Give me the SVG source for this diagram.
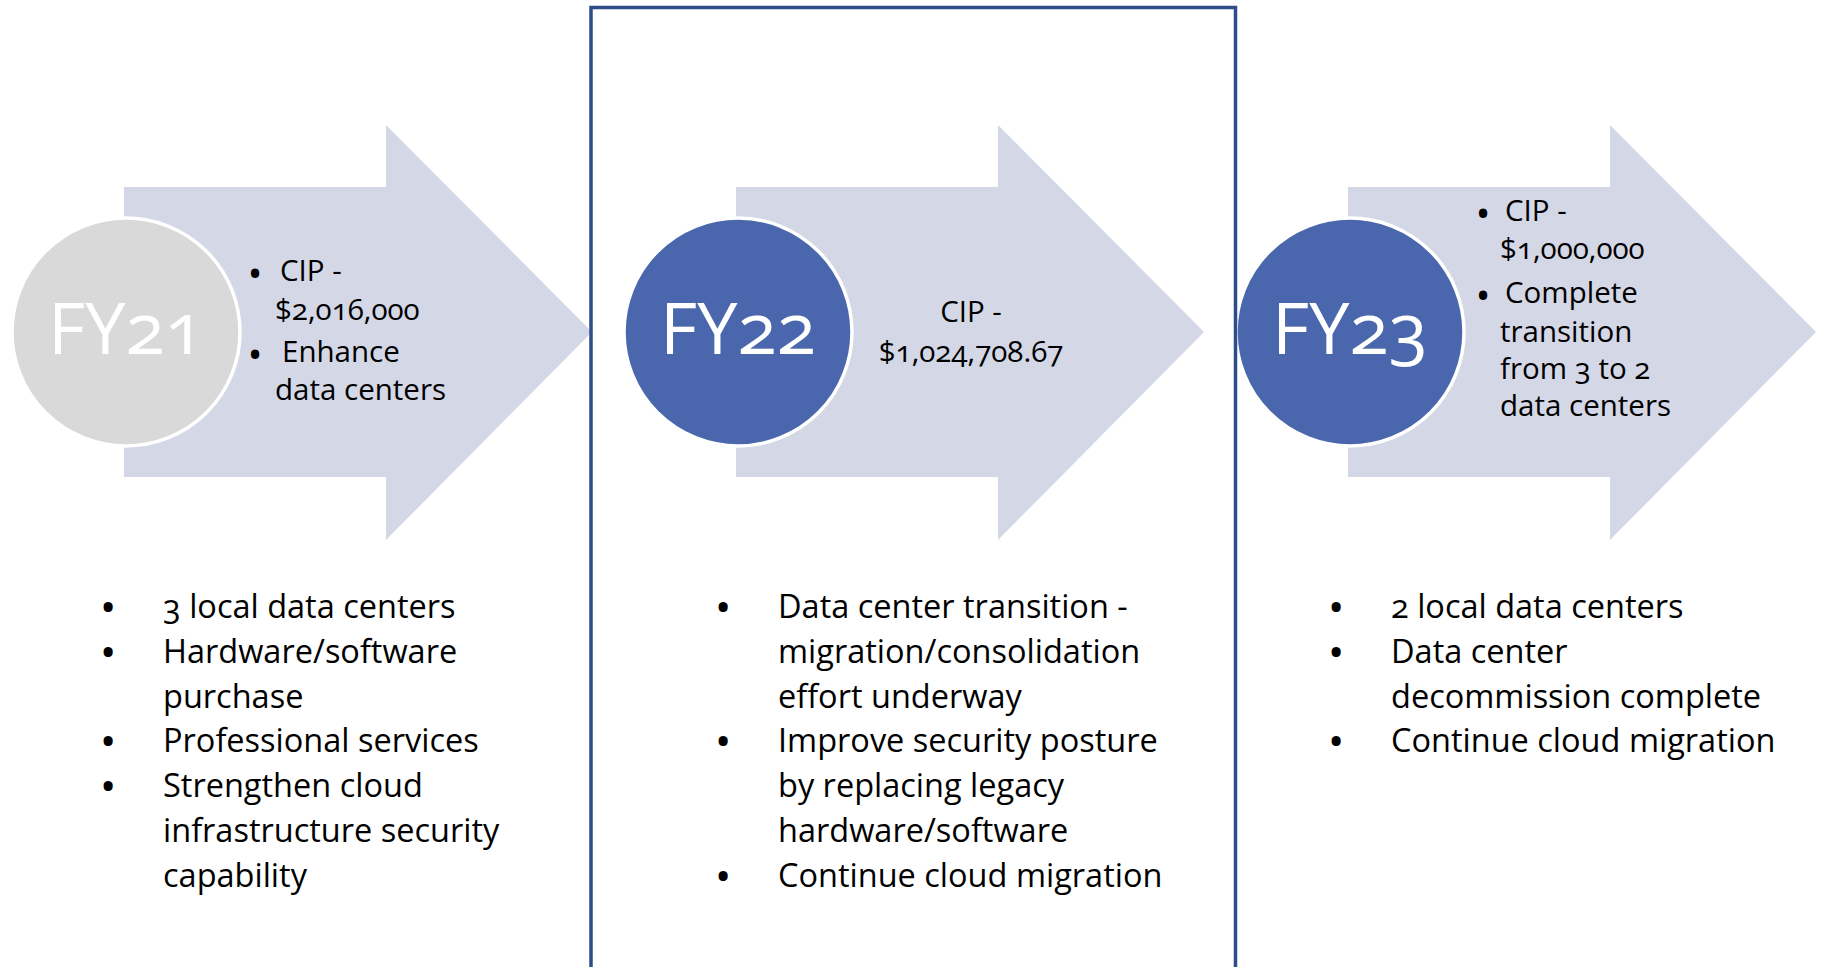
<svg xmlns="http://www.w3.org/2000/svg" width="1825" height="967" viewBox="0 0 1825 967">
<style>
.arrow{fill:#D3D7E6;}
.circ{stroke:#FFFFFF;stroke-width:3.5;}
.grey{fill:#D9D9D9;}
.blue{fill:#4A67AD;}
.fy{font-family:"Open Sans","Liberation Sans",sans-serif;font-size:72px;fill:#FFFFFF;text-anchor:middle;font-variant-numeric:oldstyle-nums;}
.at{font-family:"Open Sans","Liberation Sans",sans-serif;font-size:29.5px;fill:#000000;font-variant-numeric:oldstyle-nums;}
.bt{font-family:"Open Sans","Liberation Sans",sans-serif;font-size:32.5px;fill:#000000;font-variant-numeric:oldstyle-nums;}
.abul{font-family:"Open Sans","Liberation Sans",sans-serif;font-size:29.5px;font-weight:700;fill:#000000;text-anchor:middle;}
.bbul{font-family:"Open Sans","Liberation Sans",sans-serif;font-size:32.5px;font-weight:700;fill:#000000;text-anchor:middle;}
.mid{text-anchor:middle;}
.frame{fill:none;stroke:#2F4C8A;stroke-width:3.5;}
</style>
<rect width="1825" height="967" fill="#FFFFFF"/>

<g id="fy21">
<polygon class="arrow" points="124,187 386,187 386,125 592,332 386,540 386,477 124,477"/>
<circle class="circ grey" cx="126" cy="332" r="114"/>
<text class="fy" x="126" y="354">FY21</text>
<text class="abul" x="255" y="284">•</text>
<text class="at" x="280" y="281">CIP -</text>
<text class="at" x="275" y="320">$2,016,000</text>
<text class="abul" x="255" y="365">•</text>
<text class="at" x="282" y="362">Enhance</text>
<text class="at" x="275" y="400">data centers</text>
</g>

<g id="fy22">
<polygon class="arrow" points="736,187 998,187 998,125 1204,332 998,540 998,477 736,477"/>
<circle class="circ blue" cx="738" cy="332" r="114"/>
<text class="fy" x="738" y="354">FY22</text>
<text class="at mid" x="971" y="322">CIP -</text>
<text class="at mid" x="971" y="362">$1,024,708.67</text>
</g>

<g id="fy23">
<polygon class="arrow" points="1348,187 1610,187 1610,125 1816,332 1610,540 1610,477 1348,477"/>
<circle class="circ blue" cx="1350" cy="332" r="114"/>
<text class="fy" x="1350" y="354">FY23</text>
<text class="abul" x="1483" y="224">•</text>
<text class="at" x="1505" y="221">CIP -</text>
<text class="at" x="1500" y="259">$1,000,000</text>
<text class="abul" x="1483" y="306">•</text>
<text class="at" x="1505" y="303">Complete</text>
<text class="at" x="1500" y="342">transition</text>
<text class="at" x="1500" y="379">from 3 to 2</text>
<text class="at" x="1500" y="416">data centers</text>
</g>

<g id="fy21-list">
<text class="bbul" x="108" y="619">•</text>
<text class="bt" x="163" y="618">3 local data centers</text>
<text class="bbul" x="108" y="664">•</text>
<text class="bt" x="163" y="663">Hardware/software</text>
<text class="bt" x="163" y="708">purchase</text>
<text class="bbul" x="108" y="753">•</text>
<text class="bt" x="163" y="752">Professional services</text>
<text class="bbul" x="108" y="798">•</text>
<text class="bt" x="163" y="797">Strengthen cloud</text>
<text class="bt" x="163" y="842">infrastructure security</text>
<text class="bt" x="163" y="887">capability</text>
</g>

<g id="fy22-list">
<text class="bbul" x="723" y="619">•</text>
<text class="bt" x="778" y="618">Data center transition -</text>
<text class="bt" x="778" y="663">migration/consolidation</text>
<text class="bt" x="778" y="708">effort underway</text>
<text class="bbul" x="723" y="753">•</text>
<text class="bt" x="778" y="752">Improve security posture</text>
<text class="bt" x="778" y="797">by replacing legacy</text>
<text class="bt" x="778" y="842">hardware/software</text>
<text class="bbul" x="723" y="888">•</text>
<text class="bt" x="778" y="887">Continue cloud migration</text>
</g>

<g id="fy23-list">
<text class="bbul" x="1336" y="619">•</text>
<text class="bt" x="1391" y="618">2 local data centers</text>
<text class="bbul" x="1336" y="664">•</text>
<text class="bt" x="1391" y="663">Data center</text>
<text class="bt" x="1391" y="708">decommission complete</text>
<text class="bbul" x="1336" y="753">•</text>
<text class="bt" x="1391" y="752">Continue cloud migration</text>
</g>

<g id="fy22-frame">
<path class="frame" d="M591,970 V7.5 H1235.5 V970"/>
</g>
</svg>
